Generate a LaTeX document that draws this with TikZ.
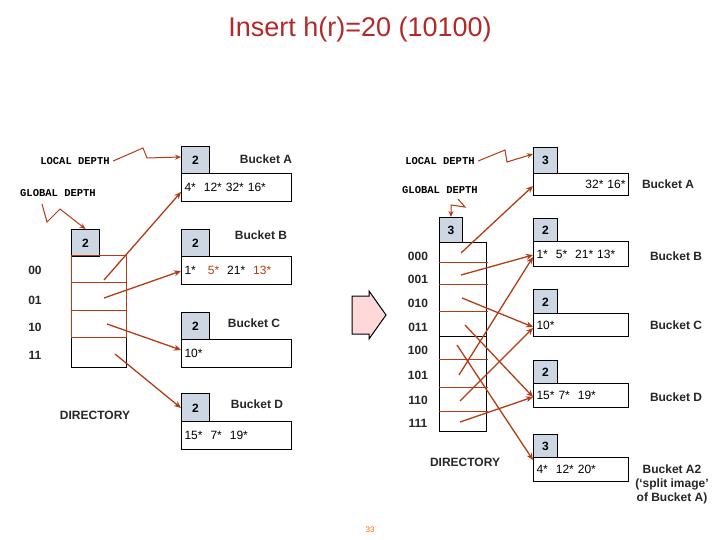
\documentclass[tikz,border=0pt]{standalone}
\usepackage{fontspec}
\setmainfont{Liberation Sans}
\newfontfamily\monofont{Liberation Mono}
\usetikzlibrary{arrows.meta}
\definecolor{ar}{RGB}{180,60,20}
\definecolor{tt}{RGB}{180,40,40}
\definecolor{dep}{RGB}{205,215,228}
\begin{document}
\begin{tikzpicture}[x=1pt,y=-1pt,
  lbl/.style={font=\fontsize{12}{14}\selectfont\bfseries\color{black!85}},
  dl/.style={inner sep=0pt,draw,line width=1pt,fill=dep,anchor=north west,font=\fontsize{12}{14}\selectfont\bfseries,text height=9pt},
  db/.style={inner sep=3pt,draw,line width=1pt,fill=white,anchor=north west,font=\fontsize{12}{14}\selectfont,align=left},
  mono/.style={font=\fontsize{10.5}{12}\selectfont\monofont\bfseries},
  arr/.style={draw=ar,line width=1.3pt,-{Stealth[length=7pt,width=6pt]}},
  zz/.style={draw=ar,line width=1pt,-{Stealth[length=6pt,width=5pt]}}]
\useasboundingbox (0,0) rectangle (720,540);
\node[font=\fontsize{27}{30}\selectfont,text=tt] (title) at (360,30) {Insert h(r)=20 (10100)};
% ---------- left ----------
\node[mono] (ldl) at (75,161) {LOCAL DEPTH};
\node[mono] (gdl) at (58,193) {GLOBAL DEPTH};
\node[dl,minimum width=28pt,minimum height=27pt] (gA) at (71,229) {2};
\node[draw,line width=1pt,anchor=north west,minimum width=55pt,minimum height=112pt,inner sep=0pt] (dirL) at (71,255) {};
\draw[ar,line width=1pt] (71,255) rectangle (126,337);
\draw[ar,line width=1pt] (71,282) -- (126,282) (71,310) -- (126,310);
\foreach \t/\y in {00/270,01/300,10/327,11/355} \node[lbl] (L\t) at (35,\y) {\t};
\node[lbl] (dirLt) at (95,415) {DIRECTORY};
% buckets
\node[dl,minimum width=28pt,minimum height=27pt] (lA) at (181,146) {2};
\node[db,text width=104pt,minimum height=28pt] (bA) at (181,173) {4*\ \ 12*\ 32*\ 16*};
\node[lbl] (tA) at (266,159) {Bucket A};
\node[dl,minimum width=28pt,minimum height=27pt] (lB) at (181,229) {2};
\node[db,text width=104pt,minimum height=28pt] (bB) at (181,256) {1*\ \ \ \textcolor{ar}{5*}\ \ 21*\ \ \textcolor{ar}{13*}};
\node[lbl] (tB) at (261,235) {Bucket B};
\node[dl,minimum width=28pt,minimum height=27pt] (lC) at (181,312) {2};
\node[db,text width=104pt,minimum height=28pt] (bC) at (181,339) {10*};
\node[lbl] (tC) at (254,323) {Bucket C};
\node[dl,minimum width=28pt,minimum height=28pt] (lD) at (181,393) {2};
\node[db,text width=104pt,minimum height=28pt] (bD) at (181,421) {15*\ \ 7*\ \ 19*};
\node[lbl] (tD) at (257,404) {Bucket D};
\coordinate (a1) at (104,280); \coordinate (a2) at (104,298);
\coordinate (a3) at (107,324); \coordinate (a4) at (115,354);
\draw[arr] (a1) -- (bA.west|-0,192);
\draw[arr] (a2) -- (bB.west|-0,271);
\draw[arr] (a3) -- (bC.west|-0,350);
\draw[arr] (a4) -- (lD.west|-0,408);
\draw[zz] (ldl.east) -- (143,148) -- (147,158) -- (lA.west|-0,157);
\draw[zz] (42,204) -- (47,222) -- (60,209) -- (gA.north);
% ---------- block arrow ----------
\draw[line width=1pt,fill=red!15] (352,296) -- (369,296) -- (369,291) -- (386,315) -- (369,339) -- (369,334) -- (352,334) -- cycle;
% ---------- right ----------
\node[mono] (rld) at (440,161) {LOCAL DEPTH};
\node[mono] (rgd) at (440,190) {GLOBAL DEPTH};
\node[dl,minimum width=23pt,minimum height=25pt] (gR) at (439,217) {3};
\node[draw,line width=1pt,anchor=north west,minimum width=47pt,minimum height=189pt,inner sep=0pt] (dirR) at (439,242) {};
\draw[line width=1pt] (439,336) -- (486,336);
\foreach \y in {262,284,311,359,387,411} \draw[ar,line width=1pt] (439,\y) -- (488,\y);
\foreach \t/\y in {000/256,001/279,010/303,011/327,100/350,101/375,110/400,111/423} \node[lbl] (R\t) at (418,\y) {\t};
\node[lbl] (dirRt) at (465,462) {DIRECTORY};
\node[dl,minimum width=24pt,minimum height=26pt] (rlA) at (533,147) {3};
\node[db,minimum height=22pt,align=right,text width=89pt] (rbA) at (533,173) {32*\ 16*};
\node[lbl] (rtA) at (668,184) {Bucket A};
\node[dl,minimum width=24pt,minimum height=23pt] (rlB) at (533,218) {2};
\node[db,text width=89pt,minimum height=25pt] (rbB) at (533,241) {1*\ \ 5*\ \ 21*\ 13*};
\node[lbl] (rtB) at (676,256) {Bucket B};
\node[dl,minimum width=24pt,minimum height=24pt] (rlC) at (533,289) {2};
\node[db,text width=89pt,minimum height=23pt] (rbC) at (533,313) {10*};
\node[lbl] (rtC) at (676,325) {Bucket C};
\node[dl,minimum width=24pt,minimum height=23pt] (rlD) at (533,360) {2};
\node[db,text width=89pt,minimum height=24pt] (rbD) at (533,383) {15*\ 7*\ \ 19*};
\node[lbl] (rtD) at (676,397) {Bucket D};
\node[dl,minimum width=24pt,minimum height=23pt] (rlE) at (533,434) {3};
\node[db,text width=89pt,minimum height=24pt] (rbE) at (533,457) {4*\ \ 12*\ 20*};
\node[lbl,align=center] (rtE) at (672,484) {Bucket A2\\(`split image'\\ of Bucket A)};
\draw[arr] (461,253) -- (rbA.west|-0,186);
\draw[arr] (461,275) -- (rbB.west|-0,255);
\draw[arr] (462,298) -- (rbC.west|-0,327);
\draw[arr] (465,325) -- (rbD.west|-0,397);
\draw[arr] (457,345) -- (rbE.west|-0,460);
\draw[arr] (459,375) -- (rbB.west|-0,257);
\draw[arr] (460,401) -- (rbC.west|-0,328);
\draw[arr] (460,422) -- (rbD.west|-0,397);
\draw[zz] (rld.east) -- (505,150) -- (507,162) -- (rlA.west|-0,154);
\draw[zz] (458,199) -- (465,207) -- (451,205) -- (gR.north);
\node[font=\fontsize{8}{9}\selectfont,text=orange!80!red] (pg) at (370,530) {33};
\end{tikzpicture}
\end{document}
